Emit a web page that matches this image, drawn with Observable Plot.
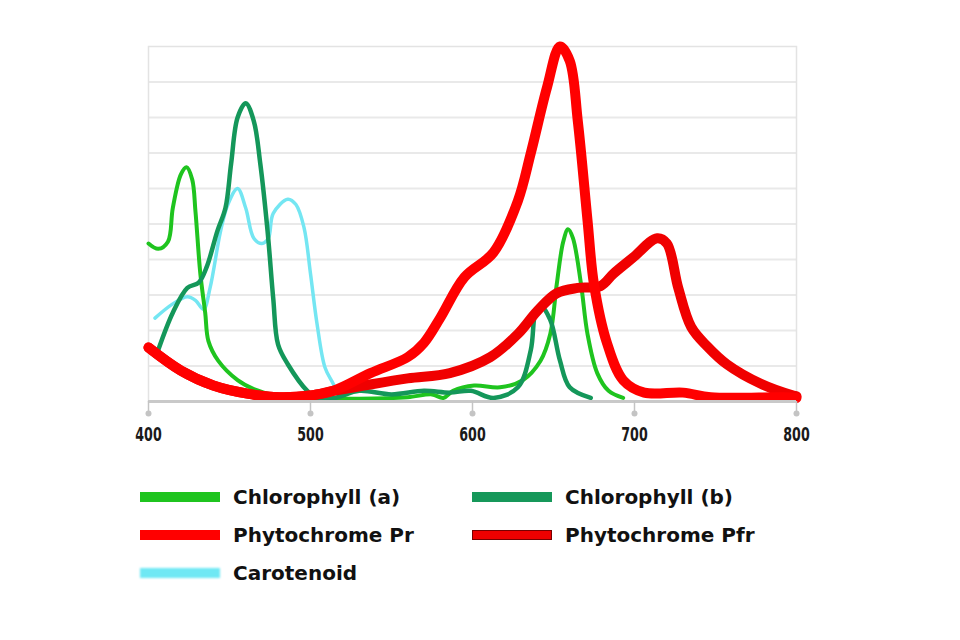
<!DOCTYPE html>
<html>
<head>
<meta charset="utf-8">
<script src="https://cdn.jsdelivr.net/npm/d3@7"></script>
<script src="https://cdn.jsdelivr.net/npm/@observablehq/plot@0.6"></script>
<style>
  html, body { margin: 0; padding: 0; background: #fff; }
  #wrap { position: relative; width: 960px; height: 640px; overflow: hidden; }
  #legend { position: absolute; left: 0; top: 0; width: 960px; height: 640px; pointer-events: none;
    font-family: "DejaVu Sans", sans-serif; font-weight: bold; font-size: 20px; color: #111; }
  .item { position: absolute; display: flex; align-items: center; height: 30px; }
  .sw { width: 80px; height: 10px; margin-right: 13px; }
</style>
</head>
<body>
<div id="wrap"><div id="chart"></div><div id="legend"></div></div>
<script>
// ---- data (wavelength nm, relative absorbance 0-10) ----
const seriesNames = ["Chlorophyll (a)", "Chlorophyll (b)", "Phytochrome Pr", "Phytochrome Pfr", "Carotenoid"];
const xTicks = [400, 500, 600, 700, 800];

const chlAWl  = [400, 406, 412, 415, 420, 423.5, 427, 429, 432, 435, 437, 443, 455, 465, 480, 500, 530, 560, 575, 582, 588, 601, 617, 631, 642, 648, 652, 656, 659, 662, 667, 671, 677, 684, 693];
const chlAVal = [4.45, 4.3, 4.5, 5.45, 6.4, 6.6, 6.25, 5.35, 3.6, 2.5, 1.7, 1.15, 0.6, 0.35, 0.15, 0.1, 0.08, 0.12, 0.2, 0.1, 0.3, 0.45, 0.4, 0.6, 1.15, 1.9, 3.3, 4.5, 4.85, 4.6, 3.3, 1.9, 0.8, 0.3, 0.1];

const chlBWl  = [406, 415, 424, 431, 436, 442.5, 447.5, 451, 455, 460, 465, 469, 473.5, 477, 480, 486, 498, 504, 515, 530, 550, 570, 586, 599, 613, 628, 636, 639, 642, 648, 654, 660, 673];
const chlBVal = [1.45, 2.5, 3.2, 3.35, 3.8, 4.8, 5.45, 6.7, 8.0, 8.4, 7.9, 6.7, 4.8, 2.9, 1.6, 1.05, 0.3, 0.1, 0.1, 0.3, 0.2, 0.3, 0.25, 0.3, 0.1, 0.4, 1.45, 2.55, 2.7, 2.3, 1.15, 0.4, 0.1];

const carWl   = [404, 415, 424, 429, 434, 438, 444.5, 449, 455, 460, 465, 470, 474, 477, 486, 491, 496, 500, 504, 509, 514, 518];
const carVal  = [2.35, 2.75, 2.95, 2.85, 2.6, 3.2, 4.8, 5.55, 6.0, 5.45, 4.6, 4.45, 4.6, 5.3, 5.7, 5.55, 4.9, 3.6, 2.2, 0.95, 0.5, 0.1];

const prWl    = [400, 420, 440, 461, 481, 500, 514, 537, 560, 570, 580, 595, 613, 628, 636, 646, 654, 660, 665, 671, 675, 683, 693, 706, 730, 747, 792, 800];
const prVal   = [1.52, 0.87, 0.45, 0.22, 0.12, 0.17, 0.3, 0.8, 1.25, 1.65, 2.35, 3.5, 4.2, 5.65, 7.0, 8.85, 10.0, 9.6, 7.9, 5.1, 3.3, 1.65, 0.6, 0.25, 0.25, 0.12, 0.12, 0.1];

const pfrWl   = [400, 420, 440, 461, 481, 500, 514, 533, 560, 586, 611, 628, 640, 652, 665, 679, 687, 699, 714, 720, 727, 735, 745, 757, 778, 798, 800];
const pfrVal  = [1.52, 0.87, 0.45, 0.22, 0.12, 0.17, 0.3, 0.45, 0.65, 0.8, 1.25, 1.9, 2.55, 3.05, 3.2, 3.25, 3.6, 4.05, 4.6, 4.45, 3.2, 2.1, 1.55, 1.05, 0.5, 0.17, 0.15];

const toRows = (wl, val) => wl.map((w, i) => ({wl: w, v: val[i]}));

const chart = Plot.plot({
  width: 960, height: 460,
  marginLeft: 148, marginRight: 164, marginTop: 46, marginBottom: 59,
  x: {domain: [400, 800]},
  y: {domain: [0, 10], axis: null},
  marks: [
    Plot.gridY(d3.range(1, 10), {stroke: "#e9e9e9", strokeOpacity: 1, strokeWidth: 2}),
    Plot.frame({stroke: "#e3e3e3", strokeWidth: 1.5}),
    Plot.line(toRows(carWl, carVal), {x: "wl", y: "v", stroke: "#74e6f2", strokeWidth: 3.5, curve: "catmull-rom"}),
    Plot.line(toRows(chlAWl, chlAVal), {x: "wl", y: "v", stroke: "#1fc41f", strokeWidth: 4, curve: "catmull-rom"}),
    Plot.line(toRows(chlBWl, chlBVal), {x: "wl", y: "v", stroke: "#14975a", strokeWidth: 4.5, curve: "catmull-rom"}),
    Plot.line(toRows(pfrWl, pfrVal), {x: "wl", y: "v", stroke: "#f00000", strokeWidth: 10, curve: "catmull-rom"}),
    Plot.line(toRows(prWl, prVal), {x: "wl", y: "v", stroke: "#ff0000", strokeWidth: 10, curve: "catmull-rom"}),
    Plot.ruleY([0], {stroke: "#c9c9c9", strokeWidth: 3}),
    Plot.axisX(xTicks, {tickSize: 10, stroke: "#c4c4c4", strokeWidth: 1.5, tickPadding: 16,
      fontSize: 19, fill: "#1a1a1a", fontFamily: "DejaVu Sans Condensed, sans-serif", fontWeight: "bold", label: null}),
    Plot.dot(xTicks, {x: d => d, y: 0, dy: 12, r: 3, fill: "#c4c4c4"})
  ]
});
// narrow, tall tick labels like the original condensed face
chart.querySelectorAll('g[aria-label="x-axis tick label"] text').forEach(t => {
  const tr = t.getAttribute("transform") || "";
  t.setAttribute("transform", tr + " scale(0.74,1)");
});
document.getElementById("chart").appendChild(chart);

// ---- legend (HTML) ----
const legendColors = ["#1fc41f", "#16985a", "#ff0000", "#ee0000", "#6fe8f4"];
const legendPos = [[140, 482], [472, 482], [140, 520], [472, 520], [140, 558]];
const lg = document.getElementById("legend");
seriesNames.forEach((name, i) => {
  const it = document.createElement("div");
  it.className = "item";
  it.style.left = legendPos[i][0] + "px";
  it.style.top = legendPos[i][1] + "px";
  const sw = document.createElement("div");
  sw.className = "sw";
  sw.style.background = legendColors[i];
  if (i === 3) sw.style.boxShadow = "inset 0 0 0 1px #700";
  if (i === 4) sw.style.filter = "blur(1px)";
  const tx = document.createElement("span");
  tx.textContent = name;
  it.appendChild(sw); it.appendChild(tx);
  lg.appendChild(it);
});
</script>
</body>
</html>
